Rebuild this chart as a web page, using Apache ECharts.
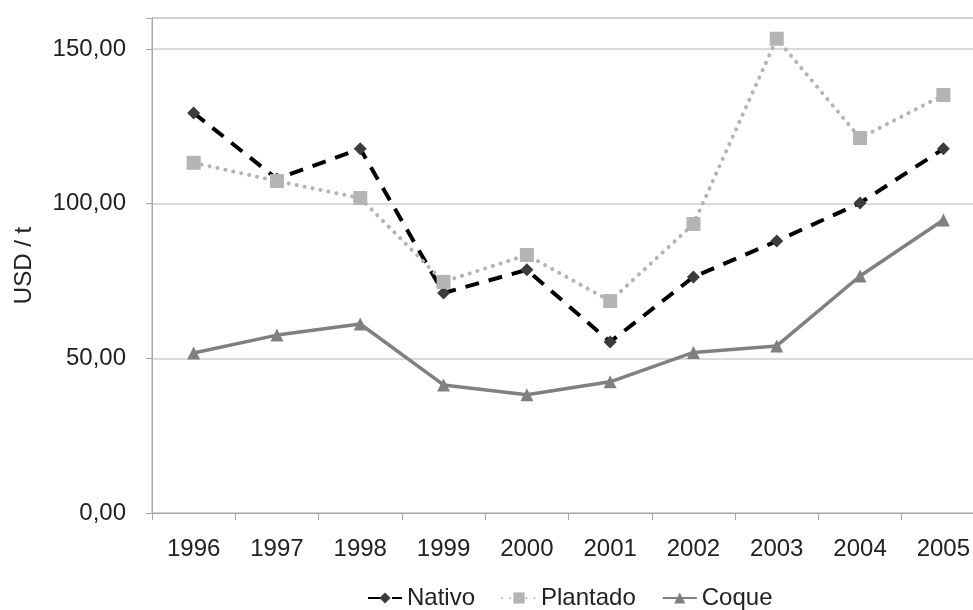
<!DOCTYPE html>
<html>
<head>
<meta charset="utf-8">
<script src="https://cdn.jsdelivr.net/npm/echarts@6/dist/echarts.min.js"></script>
<style>html,body{margin:0;padding:0;background:#fff;overflow:hidden;}#c{width:973px;height:610px;}</style>
</head>
<body>
<div id="c"></div>
<script>
var years = ['1996','1997','1998','1999','2000','2001','2002','2003','2004','2005'];
var nativo = [129.3, 108.0, 117.7, 71.1, 78.6, 55.3, 76.3, 87.9, 100.2, 117.7];
var plantado = [113.2, 107.3, 101.8, 74.7, 83.4, 68.5, 93.4, 153.3, 121.2, 135.1];
var coque = [51.7, 57.5, 61.1, 41.4, 38.2, 42.4, 51.9, 54.0, 76.6, 94.7];
var yTicks = [0, 50, 100, 150];

var font = 'Liberation Sans, Arial, sans-serif';
var chart = echarts.init(document.getElementById('c'));
chart.setOption({
  animation: false,
  backgroundColor: '#fff',
  textStyle: {fontFamily: font},
  grid: {left: 152, top: 18, width: 833, height: 495, outerBoundsMode: 'none', containLabel: false,
    show: true, borderColor: '#a8a8a8', borderWidth: 1},
  legend: {
    top: 581, left: 362,
    itemWidth: 34, itemHeight: 14, itemGap: 26,
    textStyle: {fontSize: 24, color: '#222', fontFamily: font},
    data: ['Nativo', 'Plantado', 'Coque']
  },
  xAxis: {
    type: 'category', data: years, boundaryGap: true,
    axisLine: {lineStyle: {color: '#a8a8a8', width: 1}},
    axisTick: {show: true, length: 7, lineStyle: {color: '#a8a8a8'}},
    axisLabel: {fontSize: 24, color: '#222', margin: 24, fontFamily: font},
    splitLine: {show: false}
  },
  yAxis: {
    type: 'value', min: 0, max: 160, interval: 50,
    name: 'USD / t', nameLocation: 'middle', nameGap: 116,
    nameTextStyle: {fontSize: 24, color: '#222', fontFamily: font},
    axisLine: {show: true, lineStyle: {color: '#a8a8a8', width: 1}},
    axisTick: {show: true, length: 6, lineStyle: {color: '#a8a8a8'}},
    axisLabel: {fontSize: 24, color: '#222', margin: 26, fontFamily: font,
      formatter: function (v) { return yTicks.indexOf(v) >= 0 ? v.toFixed(2).replace('.', ',') : ''; }},
    splitLine: {show: true, lineStyle: {color: '#cfcfcf', width: 1.5}}
  },
  series: [
    {name: 'Nativo', type: 'line', data: nativo, symbol: 'diamond', symbolSize: 13,
      itemStyle: {color: '#3c3c3c'}, lineStyle: {color: '#000', width: 4, type: [14, 10]}},
    {name: 'Plantado', type: 'line', data: plantado, symbol: 'rect', symbolSize: 14,
      itemStyle: {color: '#b4b4b4'}, lineStyle: {color: '#b4b4b4', width: 4, type: [0.1, 8], cap: 'round'}},
    {name: 'Coque', type: 'line', data: coque, symbol: 'triangle', symbolSize: 13,
      itemStyle: {color: '#808080'}, lineStyle: {color: '#808080', width: 3.5, type: 'solid'}}
  ]
});
</script>
</body>
</html>
